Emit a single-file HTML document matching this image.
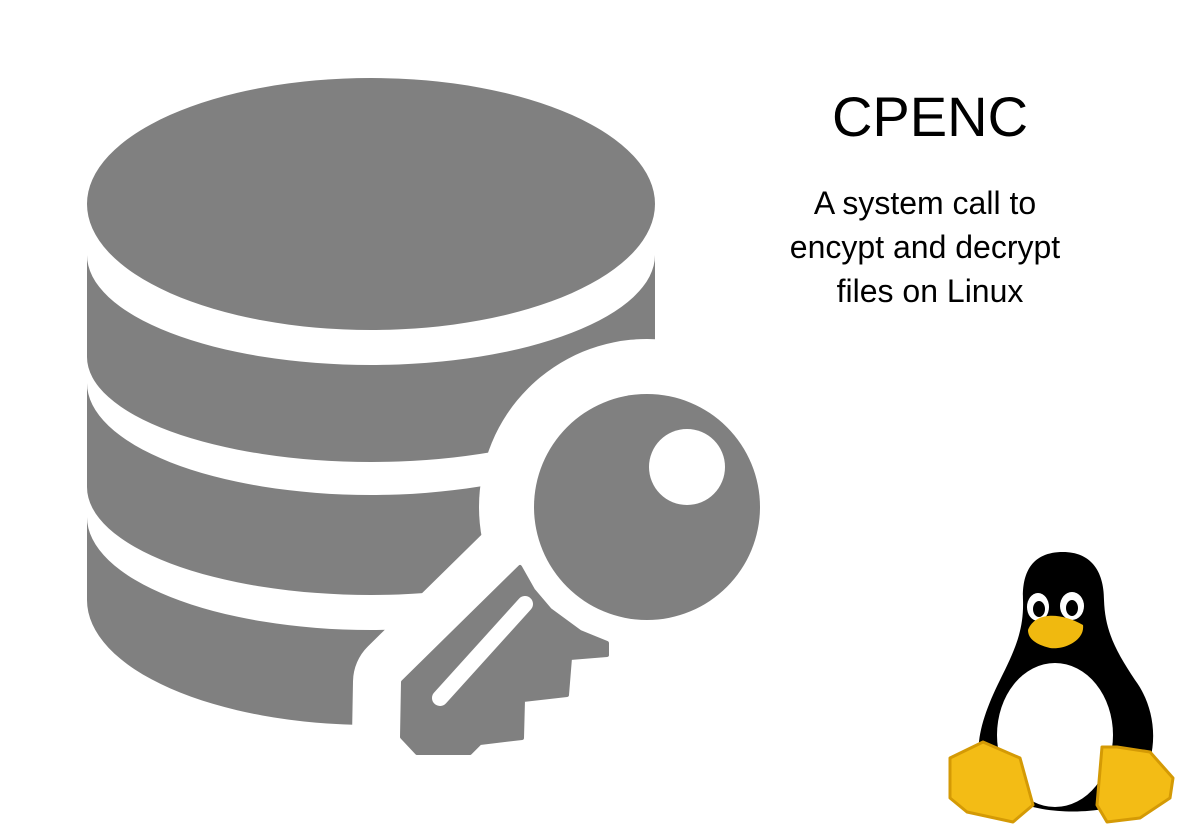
<!DOCTYPE html>
<html><head><style>
html,body{margin:0;padding:0;background:#fff;}
body{width:1200px;height:840px;position:relative;overflow:hidden;font-family:"Liberation Sans",sans-serif;}
.t{position:absolute;left:730px;width:400px;text-align:center;color:#000;}
</style></head><body>
<svg width="1200" height="840" style="position:absolute;left:0;top:0">
<g fill="#808080">
<ellipse cx="371" cy="204" rx="284" ry="126"/>
<path d="M87,255 A284,110 0 0 0 655,255 L655,357 A284,105 0 0 1 87,357 Z"/>
<path d="M87,383 A284,112 0 0 0 655,383 L655,487 A284,108 0 0 1 87,487 Z"/>
<path d="M87,517 A284,113 0 0 0 655,517 L655,600 A284,125 0 0 1 87,600 Z"/>
</g>
<circle cx="647" cy="507" r="168" fill="#fff"/>
<polygon points="520,567 533,590 550,610 607,643 607,655 570,658 567,695 523,700 522,738 480,743 470,753 417,753 402,737 403,682" fill="#fff" stroke="#fff" stroke-width="100" stroke-linejoin="round"/>
<rect x="656" y="200" width="30" height="500" fill="#fff"/>
<circle cx="647" cy="507" r="113" fill="#808080"/>
<circle cx="687" cy="467" r="38" fill="#fff"/>
<polygon points="520,567 533,590 550,610 580,632 607,643 607,655 570,658 567,695 523,700 522,738 480,743 470,753 417,753 402,737 403,682" fill="#808080" stroke="#808080" stroke-width="4" stroke-linejoin="round"/>
<line x1="440" y1="698" x2="525" y2="604" stroke="#fff" stroke-width="16" stroke-linecap="round"/>
<path d="M1063,552 C1030,552 1022,575 1023,600 C1024,630 1015,650 1000,680 C985,710 975,740 980,760 L1000,790 C1020,815 1100,818 1130,800 L1150,760 C1158,730 1150,700 1135,680 C1115,650 1105,630 1104,600 C1104,570 1090,552 1063,552Z" fill="#000"/>
<ellipse cx="1055" cy="735" rx="58" ry="72" fill="#fff"/>
<ellipse cx="1038" cy="607" rx="11" ry="14" fill="#fff"/>
<ellipse cx="1072" cy="606" rx="12" ry="14" fill="#fff"/>
<ellipse cx="1039" cy="609" rx="6" ry="8" fill="#000"/>
<ellipse cx="1072" cy="608" rx="6" ry="8" fill="#000"/>
<path d="M1028,630 C1035,612 1060,612 1083,625 C1085,640 1065,650 1050,648 C1038,645 1028,640 1028,630Z" fill="#f0b90f"/>
<polygon points="950,758 983,742 1020,758 1033,805 1013,822 967,812 950,798" fill="#f3bc15" stroke="#d49a05" stroke-width="3" stroke-linejoin="round"/>
<polygon points="1102,747 1117,747 1150,752 1173,778 1170,798 1140,818 1107,822 1097,805" fill="#f3bc15" stroke="#d49a05" stroke-width="3" stroke-linejoin="round"/>
</svg>
<div class="t" style="top:84px;font-size:56px;">CPENC</div>
<div class="t" style="top:181px;left:725px;font-size:32px;line-height:44px;">A system call to<br>encypt and decrypt<br><span style="padding-left:10px">files on Linux</span></div>
</body></html>
